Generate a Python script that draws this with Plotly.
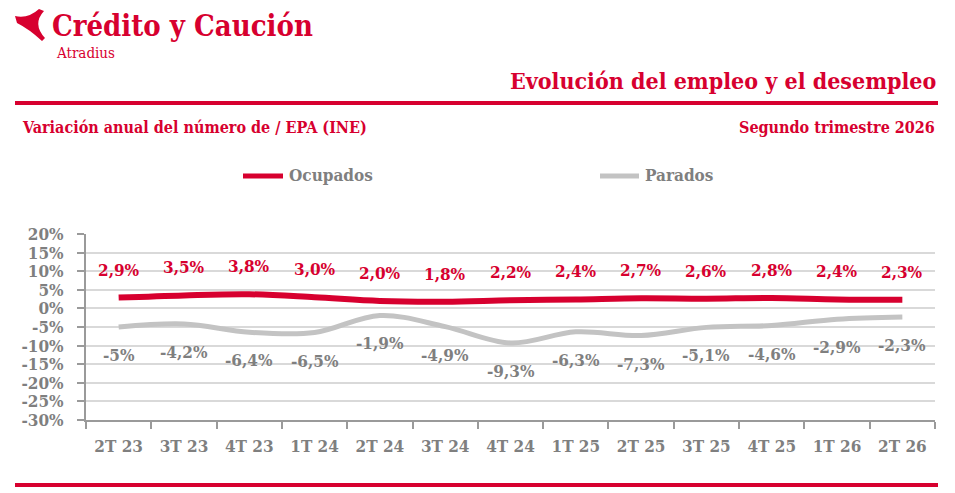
import plotly.graph_objects as go

quarters = ["2T 23", "3T 23", "4T 23", "1T 24", "2T 24", "3T 24", "4T 24",
            "1T 25", "2T 25", "3T 25", "4T 25", "1T 26", "2T 26"]
ocupados = [2.9, 3.5, 3.8, 3.0, 2.0, 1.8, 2.2, 2.4, 2.7, 2.6, 2.8, 2.4, 2.3]
parados = [-5.0, -4.2, -6.4, -6.5, -1.9, -4.9, -9.3, -6.3, -7.3, -5.1, -4.6, -2.9, -2.3]
y_ticks = list(range(-30, 25, 5))

RED = "#D7002F"
GREY_LINE = "#C3C3C3"
GREY_TXT = "#7F7F7F"
FONT = "DejaVu Serif Condensed, DejaVu Serif, serif"

W, H = 955, 493


def fmt(v):
    # comma decimal like the original, whole numbers without decimals
    s = f"{v:.1f}".replace(".", ",")
    if s.endswith(",0") and v < 0:
        s = s[:-2]
    return s + "%"


fig = go.Figure()

fig.add_trace(go.Scatter(
    x=quarters, y=ocupados, name="Ocupados", mode="lines",
    line=dict(color=RED, width=6, shape="spline", smoothing=1.0),
))
fig.add_trace(go.Scatter(
    x=quarters, y=parados, name="Parados", mode="lines",
    line=dict(color=GREY_LINE, width=5, shape="spline", smoothing=1.0),
))
# invisible trace so the pixel overlay axes exist
fig.add_trace(go.Scatter(x=[0], y=[0], xaxis="x2", yaxis="y2", mode="markers",
                         marker=dict(opacity=0), showlegend=False, hoverinfo="skip"))

# data labels
for q, v in zip(quarters, ocupados):
    fig.add_annotation(x=q, y=v, text=fmt(v), showarrow=False, yshift=28,
                       font=dict(family=FONT, size=17, color=RED, weight="bold"))
for q, v in zip(quarters, parados):
    fig.add_annotation(x=q, y=v, text=fmt(v), showarrow=False, yshift=-28,
                       font=dict(family=FONT, size=17, color=GREY_TXT, weight="bold"))

# header, legend and footer on the overlay axis (pixel units)
hdr = dict(xref="x2", yref="y2", showarrow=False)
fig.add_annotation(**hdr, x=50, y=26, text="Crédito y Caución",
                   xanchor="left", font=dict(family=FONT, size=29, color=RED, weight="bold"))
fig.add_annotation(**hdr, x=54, y=53, text="Atradius",
                   xanchor="left", font=dict(family=FONT, size=15, color=RED))
fig.add_annotation(**hdr, x=938, y=80, text="Evolución del empleo y el desempleo",
                   xanchor="right", font=dict(family=FONT, size=23, color=RED, weight="bold"))
fig.add_annotation(**hdr, x=20, y=127, text="Variación anual del número de / EPA (INE)",
                   xanchor="left", font=dict(family=FONT, size=16, color=RED, weight="bold"))
fig.add_annotation(**hdr, x=937, y=127, text="Segundo trimestre 2026",
                   xanchor="right", font=dict(family=FONT, size=16, color=RED, weight="bold"))
fig.add_annotation(**hdr, x=287, y=175, text="Ocupados",
                   xanchor="left", font=dict(family=FONT, size=17, color=GREY_TXT, weight="bold"))
fig.add_annotation(**hdr, x=643, y=175, text="Parados",
                   xanchor="left", font=dict(family=FONT, size=17, color=GREY_TXT, weight="bold"))

sh = dict(xref="x2", yref="y2")
fig.add_shape(**sh, type="line", x0=243, x1=283, y0=176, y1=176, line=dict(color=RED, width=5))
fig.add_shape(**sh, type="line", x0=600, x1=639, y0=176, y1=176, line=dict(color=GREY_LINE, width=5))
fig.add_shape(**sh, type="line", x0=15, x1=938, y0=103, y1=103, line=dict(color=RED, width=4))
fig.add_shape(**sh, type="line", x0=15, x1=938, y0=485, y1=485, line=dict(color=RED, width=4))
# logo mark
fig.add_shape(**sh, type="path", line=dict(width=0), fillcolor=RED,
              path="M 15 16 Q 28 19 39 9 L 44 11 Q 32 24 45 38 L 42 41 Q 29 29 17 23 Z")

fig.update_layout(
    width=W, height=H,
    margin=dict(l=0, r=0, t=0, b=0, autoexpand=False),
    paper_bgcolor="white", plot_bgcolor="rgba(0,0,0,0)",
    showlegend=False,
    xaxis=dict(domain=[86 / W, 935 / W], range=[-0.5, 12.5], type="category",
               showline=True, linecolor="#9A9A9A", linewidth=2,
               ticks="outside", tickson="boundaries", ticklen=7, tickcolor="#9A9A9A", tickwidth=2,
               showgrid=False, zeroline=False, ticklabelstandoff=10,
               tickfont=dict(family=FONT, size=17, color=GREY_TXT, weight="bold")),
    yaxis=dict(domain=[1 - 420 / H, 1 - 234 / H], range=[-30, 20],
               tickvals=y_ticks, ticktext=[f"{v}%" for v in y_ticks],
               showline=True, linecolor="#9A9A9A", linewidth=2,
               ticks="outside", ticklen=7, tickcolor="#9A9A9A", tickwidth=2,
               showgrid=True, gridcolor="#D9D9D9", gridwidth=2, zeroline=False,
               ticklabelstandoff=10,
               tickfont=dict(family=FONT, size=17, color=GREY_TXT, weight="bold")),
    xaxis2=dict(domain=[0, 1], range=[0, W], visible=False, fixedrange=True, anchor="y2"),
    yaxis2=dict(domain=[0, 1], range=[H, 0], visible=False, fixedrange=True, anchor="x2"),
)

# drop the browser's default body margin so the chart sits at the page corner
fig.write_html("out.html", config={"displayModeBar": False},
               post_script="document.body.style.margin = '0';")
